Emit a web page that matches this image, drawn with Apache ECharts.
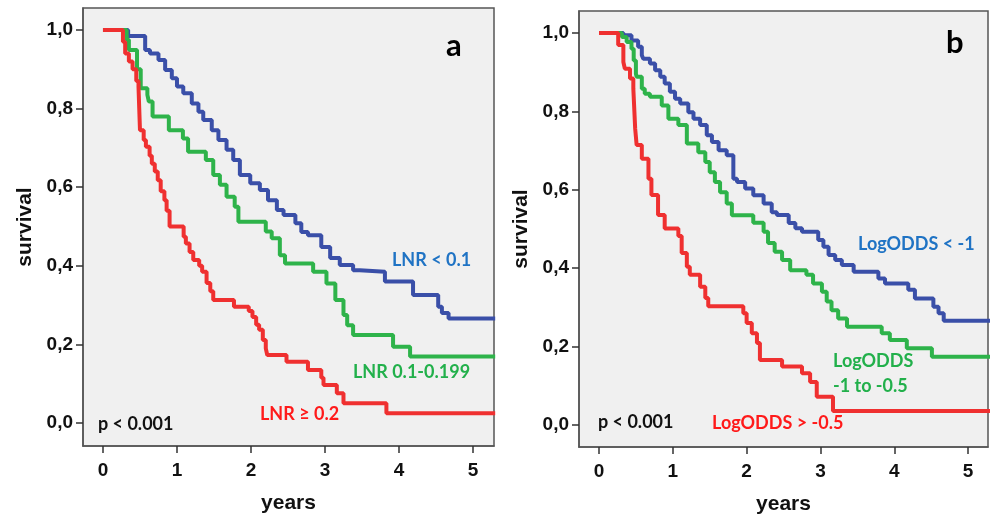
<!DOCTYPE html>
<html>
<head>
<meta charset="utf-8">
<script src="https://cdn.jsdelivr.net/npm/echarts@6/dist/echarts.min.js"></script>
<style>
    html, body { margin: 0; padding: 0; background: #fff; }
    #main { width: 990px; height: 516px; }
</style>
</head>
<body>
<div id="main"></div>
<script>
    // tick labels
    var xTicks = [0, 1, 2, 3, 4, 5];
    var yTicks = [0, 0.2, 0.4, 0.6, 0.8, 1.0];

    // panel a : [years, survival], level starts at that time
    var lnrLow = [[0,1.0],[0.34,0.985],[0.57,0.949],[0.635,0.94],[0.75,0.924],[0.84,0.898],[0.93,0.877],[1.0,0.856],[1.085,0.839],[1.2,0.813],[1.29,0.792],[1.355,0.771],[1.47,0.745],[1.56,0.72],[1.67,0.695],[1.76,0.669],[1.85,0.631],[1.99,0.61],[2.12,0.593],[2.23,0.567],[2.35,0.542],[2.44,0.529],[2.6,0.508],[2.68,0.486],[2.77,0.478],[2.95,0.448],[3.07,0.42],[3.2,0.402],[3.38,0.389],[3.47,0.385],[3.81,0.36],[4.19,0.326],[4.53,0.296],[4.58,0.28],[4.67,0.266],[5.3,0.266]];
    var lnrMid = [[0,1.0],[0.32,0.975],[0.35,0.949],[0.46,0.9],[0.51,0.852],[0.6,0.835],[0.62,0.818],[0.67,0.78],[0.89,0.745],[1.08,0.724],[1.15,0.69],[1.39,0.669],[1.49,0.631],[1.58,0.606],[1.67,0.576],[1.78,0.55],[1.83,0.512],[2.2,0.487],[2.28,0.47],[2.39,0.427],[2.46,0.406],[2.84,0.385],[3.02,0.355],[3.14,0.313],[3.25,0.275],[3.3,0.249],[3.38,0.224],[3.92,0.194],[4.15,0.169],[5.3,0.169]];
    var lnrHigh = [[0,1.0],[0.27,0.97],[0.3,0.94],[0.35,0.92],[0.4,0.9],[0.45,0.87],[0.48,0.856],[0.49,0.8],[0.5,0.745],[0.55,0.72],[0.58,0.703],[0.63,0.68],[0.66,0.66],[0.7,0.64],[0.74,0.618],[0.78,0.59],[0.83,0.567],[0.86,0.54],[0.9,0.5],[1.09,0.474],[1.12,0.457],[1.17,0.435],[1.22,0.415],[1.3,0.4],[1.34,0.385],[1.4,0.356],[1.45,0.335],[1.49,0.313],[1.77,0.296],[1.97,0.285],[2.02,0.27],[2.07,0.25],[2.11,0.237],[2.16,0.211],[2.2,0.19],[2.22,0.173],[2.48,0.156],[2.77,0.135],[2.95,0.115],[2.98,0.097],[3.16,0.076],[3.25,0.05],[3.83,0.025],[5.3,0.025]];

    // panel b
    var oddsLow = [[0,1.0],[0.33,0.994],[0.44,0.981],[0.53,0.965],[0.58,0.943],[0.6,0.934],[0.69,0.922],[0.76,0.905],[0.83,0.888],[0.89,0.871],[0.96,0.85],[1.03,0.832],[1.1,0.82],[1.21,0.798],[1.28,0.781],[1.37,0.765],[1.46,0.739],[1.53,0.722],[1.62,0.701],[1.73,0.688],[1.82,0.628],[1.87,0.62],[1.98,0.603],[2.09,0.586],[2.23,0.565],[2.34,0.543],[2.41,0.536],[2.57,0.515],[2.66,0.502],[2.75,0.493],[2.97,0.472],[3.04,0.455],[3.11,0.434],[3.2,0.421],[3.29,0.408],[3.45,0.391],[3.785,0.374],[3.875,0.361],[4.19,0.345],[4.28,0.323],[4.53,0.302],[4.6,0.285],[4.67,0.266],[5.3,0.266]];
    var oddsMid = [[0,1.0],[0.31,0.99],[0.375,0.977],[0.44,0.96],[0.47,0.93],[0.5,0.896],[0.51,0.888],[0.58,0.858],[0.62,0.845],[0.69,0.837],[0.85,0.815],[0.94,0.781],[1.075,0.765],[1.19,0.718],[1.345,0.696],[1.44,0.671],[1.5,0.645],[1.57,0.62],[1.64,0.594],[1.73,0.565],[1.8,0.535],[2.09,0.516],[2.23,0.493],[2.29,0.464],[2.38,0.442],[2.48,0.421],[2.59,0.395],[2.81,0.383],[2.9,0.361],[3.02,0.34],[3.085,0.315],[3.15,0.293],[3.24,0.272],[3.36,0.251],[3.83,0.234],[3.94,0.217],[4.17,0.196],[4.51,0.174],[5.3,0.174]];
    var oddsHigh = [[0,1.0],[0.26,0.969],[0.33,0.926],[0.35,0.909],[0.42,0.884],[0.465,0.858],[0.49,0.756],[0.51,0.714],[0.58,0.679],[0.67,0.628],[0.71,0.587],[0.8,0.536],[0.89,0.501],[1.075,0.482],[1.12,0.439],[1.19,0.404],[1.23,0.383],[1.37,0.353],[1.44,0.324],[1.48,0.303],[1.955,0.285],[2.0,0.26],[2.07,0.234],[2.14,0.209],[2.18,0.166],[2.48,0.149],[2.75,0.132],[2.86,0.11],[2.95,0.072],[3.17,0.036],[5.3,0.036]];

    var myChart = echarts.init(document.getElementById('main'));

    var noteFont = '"Lato", "Noto Sans", sans-serif';

    function fmtY(v) {
        return v.toFixed(1).replace('.', ',');
    }

    function makeX(idx, min, max) {
        return {
            type: 'value', gridIndex: idx, min: min, max: max,
            name: 'years', nameLocation: 'middle', nameGap: 47,
            nameTextStyle: { fontFamily: '"Liberation Sans", Arial', fontWeight: 'bold', fontSize: 21, color: '#111' },
            axisLine: { show: true, onZero: false, lineStyle: { color: '#555', width: 1.5 } },
            axisTick: { show: true, length: 7, customValues: xTicks, lineStyle: { color: '#333', width: 1.5 } },
            axisLabel: { customValues: xTicks, margin: 15, fontFamily: '"Liberation Sans", Arial', fontWeight: 'bold', fontSize: 19, color: '#111' },
            splitLine: { show: false }
        };
    }

    function makeY(idx, min, max) {
        return {
            type: 'value', gridIndex: idx, min: min, max: max,
            name: 'survival', nameLocation: 'middle', nameGap: 47, nameRotate: 90,
            nameTextStyle: { fontFamily: '"Liberation Sans", Arial', fontWeight: 'bold', fontSize: 21, color: '#111' },
            axisLine: { show: true, onZero: false, lineStyle: { color: '#555', width: 1.5 } },
            axisTick: { show: true, length: 7, customValues: yTicks, lineStyle: { color: '#333', width: 1.5 } },
            axisLabel: { customValues: yTicks, margin: 10, formatter: fmtY, fontFamily: '"Liberation Sans", Arial', fontWeight: 'bold', fontSize: 19, color: '#111' },
            splitLine: { show: false }
        };
    }

    function km(name, data, color, xi) {
        return {
            name: name, type: 'line', step: 'end', data: data,
            xAxisIndex: xi, yAxisIndex: xi,
            showSymbol: false, symbol: 'none', clip: true,
            lineStyle: { color: color, width: 4 },
            emphasis: { disabled: true }
        };
    }

    function note(text, x, y, color, size) {
        return {
            type: 'text', left: x, top: y,
            style: { text: text, fill: color, font: 'bold ' + size + 'px ' + noteFont }
        };
    }

    var option = {
        backgroundColor: '#ffffff',
        animation: false,
        grid: [
            { left: 83, top: 8, width: 411, height: 438, outerBoundsMode: 'none', show: true, backgroundColor: '#f0f0f0', borderColor: '#555', borderWidth: 1.5 },
            { left: 579, top: 11, width: 409, height: 436, outerBoundsMode: 'none', show: true, backgroundColor: '#f0f0f0', borderColor: '#555', borderWidth: 1.5 }
        ],
        xAxis: [makeX(0, -0.27, 5.284), makeX(1, -0.271, 5.27)],
        yAxis: [makeY(0, -0.0585, 1.056), makeY(1, -0.056, 1.056)],
        series: [
            km('LNR < 0.1', lnrLow, '#3a4fa8', 0),
            km('LNR 0.1-0.199', lnrMid, '#2eb34a', 0),
            km('LNR ≥ 0.2', lnrHigh, '#ef3030', 0),
            km('LogODDS < -1', oddsLow, '#3a4fa8', 1),
            km('LogODDS -1 to -0.5', oddsMid, '#2eb34a', 1),
            km('LogODDS > -0.5', oddsHigh, '#ef3030', 1)
        ],
        graphic: [
            note('a', 446, 30, '#000', 31),
            note('b', 946, 27, '#000', 31),
            note('LNR < 0.1', 392, 251, '#1f73c4', 18),
            note('LNR 0.1-0.199', 353, 363, '#22b04b', 18),
            note('LNR \u2265 0.2', 260, 405, '#ff1a1a', 18),
            note('p < 0.001', 98, 415, '#111', 18),
            note('LogODDS < -1', 858, 235, '#1f73c4', 18),
            note('LogODDS', 833, 352, '#22b04b', 18),
            note('-1 to -0.5', 833, 377, '#22b04b', 18),
            note('LogODDS > -0.5', 712, 414, '#ff1a1a', 18),
            note('p < 0.001', 598, 413, '#111', 18)
        ]
    };

    myChart.setOption(option);
</script>
</body>
</html>
